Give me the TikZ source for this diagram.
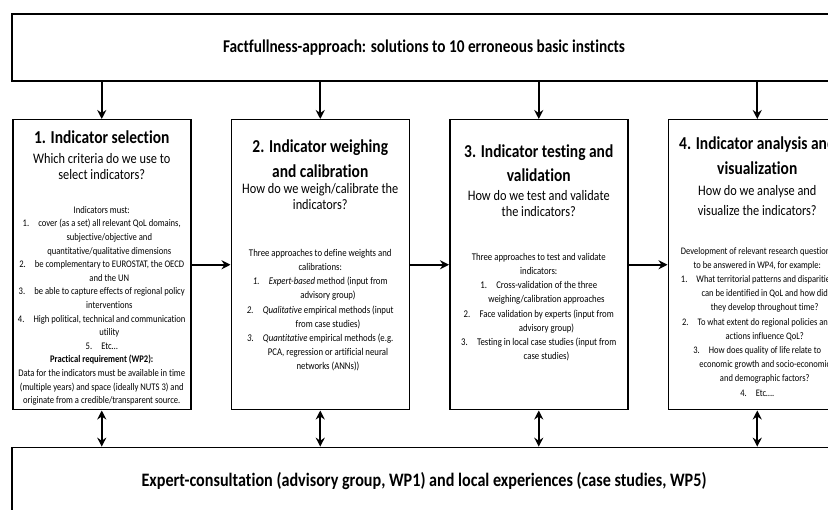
\documentclass[tikz,border=0pt]{standalone}
\usepackage{fontspec}
\setmainfont[FakeStretch=0.85,Ligatures=NoCommon]{Carlito}
\usetikzlibrary{positioning,arrows.meta}

% numbered line and its centred continuation
\newcommand{\itm}[2]{#1\hspace{0.9em}#2}
\newcommand{\cnt}[1]{\hspace*{1.5em}#1}
\newcommand{\ttl}[1]{{\fontsize{18.2}{16}\selectfont\bfseries #1}}

\begin{document}
\begin{tikzpicture}[x=1pt,y=-1pt,
  >={Stealth[length=9pt,width=9pt,inset=3pt]},
  bar/.style={draw,line width=1.6pt,inner sep=0pt,minimum width=824pt,
    minimum height=67pt,font=\fontsize{19}{20}\selectfont\bfseries},
  stagebox/.style={draw,line width=1.5pt,anchor=north west,inner sep=0pt,
    minimum width=178pt,minimum height=290pt},
  headtext/.style={align=center,inner sep=0pt,font=\fontsize{14.5}{16}\selectfont},
  bodytext/.style={align=center,inner sep=0pt,font=\fontsize{10.3}{14.2}\selectfont},
  conn/.style={line width=2.3pt}]
  \useasboundingbox (0,0) rectangle (828,510);
  \clip (0,0) rectangle (828,510);

  % top and bottom bars
  \node[bar,font=\fontsize{18}{20}\selectfont\bfseries] (facts) at (424,47.5)
    {Factfullness-approach: solutions to 10 erroneous basic instincts};
  \node[bar] (expert) at (424,481)
    {Expert-consultation (advisory group, WP1) and local experiences (case studies, WP5)};

  % the four stages
  \node[stagebox] (s1) at (12,119) {};
  \node[stagebox,right=39pt of s1] (s2) {};
  \node[stagebox,right=39pt of s2] (s3) {};
  \node[stagebox,right=39pt of s3] (s4) {};

  % headings
  \node[headtext,below=12pt of s1.north] (h1)
    {\ttl{1. Indicator selection}\\[4pt]
     Which criteria do we use to\\ select indicators?};
  \node[headtext,below=21pt of s2.north] (h2)
    {\ttl{2. Indicator weighing}\\[9pt] \ttl{and calibration}\\
     How do we weigh/calibrate the\\ indicators?};
  \node[headtext,below=26pt of s3.north] (h3)
    {\ttl{3. Indicator testing and}\\[8pt] \ttl{validation}\\[3pt]
     How do we test and validate\\ the indicators?};
  \node[headtext,below=18pt of s4.north] (h4)
    {\ttl{4. Indicator analysis and}\\[9pt] \ttl{visualization}\\[5pt]
     How do we analyse and\\[4pt] visualize the indicators?};

  % stage contents
  \node[bodytext,font=\fontsize{10.1}{13.6}\selectfont,
        below=87pt of s1.north] (b1)
    {Indicators must:\\
     \itm{1.}{cover (as a set) all relevant QoL domains,}\\
     \cnt{subjective/objective and}\\
     \cnt{quantitative/qualitative dimensions}\\
     \itm{2.}{be complementary to EUROSTAT, the OECD}\\
     \cnt{and the UN}\\
     \itm{3.}{be able to capture effects of regional policy}\\
     \cnt{interventions}\\
     \itm{4.}{High political, technical and communication}\\
     \cnt{utility}\\
     \itm{5.}{Etc…}\\
     {\bfseries Practical requirement (WP2):}\\
     Data for the indicators must be available in time\\
     (multiple years) and space (ideally NUTS 3) and\\
     originate from a credible/transparent source.};
  \node[bodytext,below=130pt of s2.north] (b2)
    {Three approaches to define weights and\\
     calibrations:\\
     \itm{\itshape 1.}{\itshape Expert-based\upshape{} method (input from}\\
     \cnt{advisory group)}\\
     \itm{\itshape 2.}{\itshape Qualitative\upshape{} empirical methods (input}\\
     \cnt{from case studies)}\\
     \itm{\itshape 3.}{\itshape Quantitative\upshape{} empirical methods (e.g.}\\
     \cnt{PCA, regression or artificial neural}\\
     \cnt{networks (ANNs))}};
  \node[bodytext,below=134pt of s3.north] (b3)
    {Three approaches to test and validate\\
     indicators:\\
     \itm{1.}{Cross-validation of the three}\\
     \cnt{weighing/calibration approaches}\\
     \itm{2.}{Face validation by experts (input from}\\
     \cnt{advisory group)}\\
     \itm{3.}{Testing in local case studies (input from}\\
     \cnt{case studies)}};
  \node[bodytext,font=\fontsize{10}{14.2}\selectfont,below=128pt of s4.north] (b4)
    {Development of relevant research questions\\
     to be answered in WP4, for example:\\
     \itm{1.}{What territorial patterns and disparities}\\
     \cnt{can be identified in QoL and how did}\\
     \cnt{they develop throughout time?}\\
     \itm{2.}{To what extent do regional policies and}\\
     \cnt{actions influence QoL?}\\
     \itm{3.}{How does quality of life relate to}\\
     \cnt{economic growth and socio-economic}\\
     \cnt{and demographic factors?}\\
     \itm{4.}{Etc….}};

  % connectors
  \foreach \i in {1,...,4} {
    \draw[conn,->] (facts.south -| s\i.north) -- (s\i.north);
    \draw[conn,<->] (s\i.south) -- (s\i.south |- expert.north);
  }
  \draw[conn,->] (s1.east) -- (s2.west);
  \draw[conn,->] (s2.east) -- (s3.west);
  \draw[conn,->] (s3.east) -- (s4.west);
\end{tikzpicture}
\end{document}
